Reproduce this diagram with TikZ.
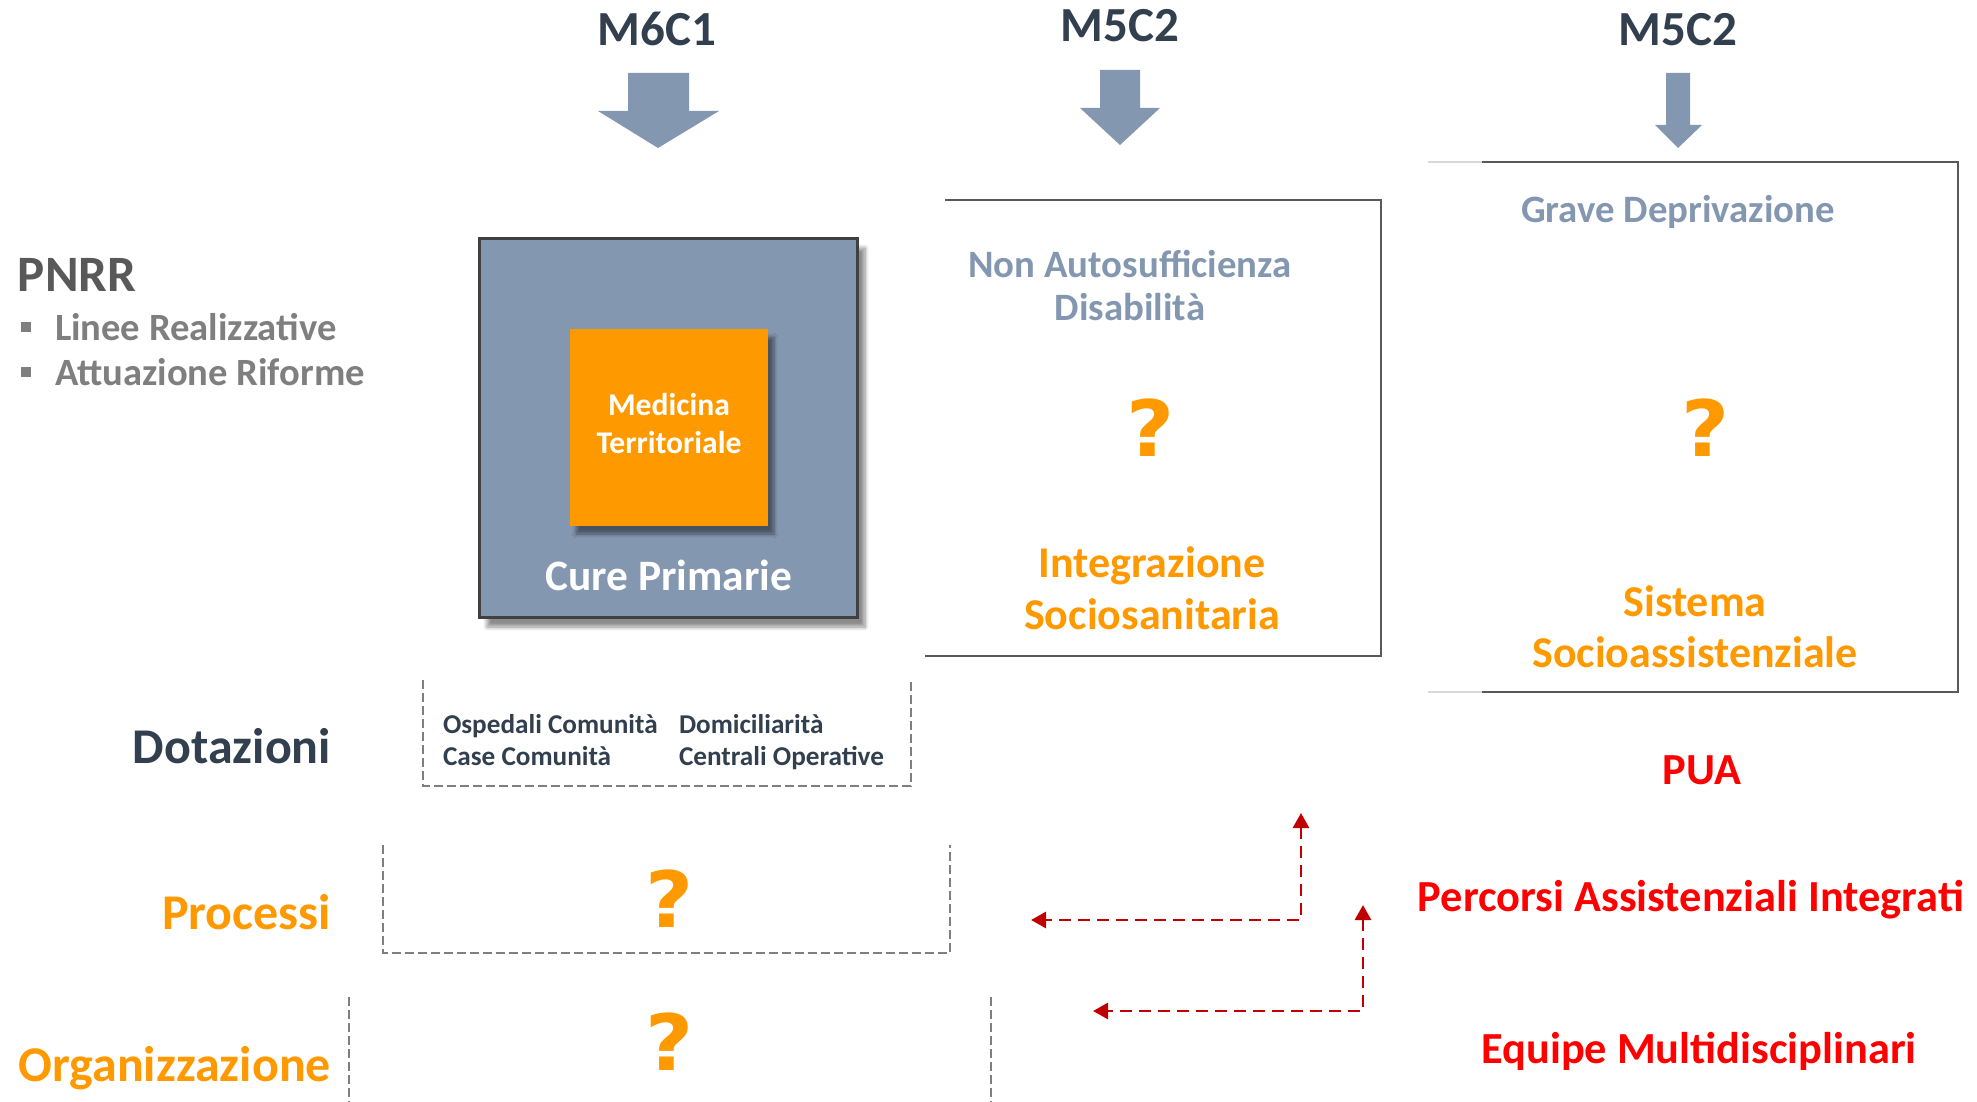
\documentclass[tikz,border=0pt]{standalone}
\usepackage{fontspec}
\setmainfont{Carlito}
\newfontfamily\qfont{DejaVu Sans}
\usetikzlibrary{arrows.meta,shadows.blur}
\definecolor{slate}{HTML}{323F4F}
\definecolor{bluegray}{HTML}{8497B0}
\definecolor{orng}{HTML}{FF9900}
\definecolor{dgray}{HTML}{595959}
\definecolor{mgray}{HTML}{7F7F7F}
\definecolor{lgray}{HTML}{D9D9D9}
\definecolor{rred}{HTML}{FF0000}
\definecolor{dred}{HTML}{C00000}
\definecolor{bord}{HTML}{404040}
\newcommand\myfs[2]{\fontsize{#1}{#2}\selectfont}
\newcommand\qmark{{\qfont\bfseries\scalebox{1.12}[1.05]{?}}}
\begin{document}
\begin{tikzpicture}[x=0.5pt,y=-0.5pt,
  txt/.style={inner sep=0pt,outer sep=0pt,anchor=base},
  ttl/.style={txt,text=slate,font=\bfseries\myfs{24.5}{29}},
  blockarrow/.style={fill=bluegray,draw=none},
  boxline/.style={draw=dgray,line width=1.25pt},
  graydash/.style={draw=mgray,line width=1pt,dash pattern=on 4.5pt off 2pt},
  redarrow/.style={draw=dred,line width=1.4pt,dash pattern=on 6pt off 3.5pt,
     {Triangle[length=7.5pt,width=8pt]}-{Triangle[length=7.5pt,width=8pt]}},
  qm/.style={inner sep=0pt,outer sep=0pt,text=orng,font=\myfs{37}{40}},
  bluetxt/.style={txt,text=bluegray,font=\bfseries\myfs{19.4}{22}},
  orgtxt/.style={txt,text=orng,font=\bfseries\myfs{22}{26}},
  redtxt/.style={txt,text=rred,font=\bfseries\myfs{22.2}{26}},
  rowlbl/.style={inner sep=0pt,outer sep=0pt,anchor=base east,font=\bfseries\myfs{25}{30}},
  small/.style={txt,anchor=base west,text=slate,font=\bfseries\myfs{13.6}{16}},
  bul/.style={txt,anchor=base west,text=mgray,font=\bfseries\myfs{19.3}{22}}
]
\useasboundingbox (0,0) rectangle (1977,1102);

% ---- top titles
\node[ttl] (t1) at (657,46) {M6C1};
\node[ttl] (t2) at (1120,42) {M5C2};
\node[ttl] (t3) at (1678,46) {M5C2};

% ---- block arrows
\fill[blockarrow] (628,73) -- (689,73) -- (689,111) -- (719,111) -- (658,148) -- (598,111) -- (628,111) -- cycle;
\fill[blockarrow] (1100,70) -- (1140,70) -- (1140,108) -- (1160,108) -- (1120,145) -- (1080,108) -- (1100,108) -- cycle;
\fill[blockarrow] (1666,73) -- (1690,73) -- (1690,125) -- (1702,125) -- (1678,148) -- (1655,125) -- (1666,125) -- cycle;

% ---- PNRR
\node[txt,anchor=base west,text=dgray,font=\bfseries\myfs{25.5}{30}] (pnrr) at (18,291) {PNRR};
\fill[mgray] (21,322) rectangle (31,332);
\fill[mgray] (21,367) rectangle (31,377);
\node[bul] (b1) at (55,340) {Linee Realizzative};
\node[bul] (b2) at (55,385) {Attuazione Riforme};

% ---- Cure Primarie box
\path[fill=bluegray,draw=bord,line width=1.5pt,
  blur shadow={shadow xshift=4pt,shadow yshift=-5pt,shadow blur steps=8,shadow opacity=45}]
  (479,238) rectangle (857,617);
\path[fill=orng,
  blur shadow={shadow xshift=3pt,shadow yshift=-4pt,shadow blur steps=6,shadow opacity=45}]
  (570,329) rectangle (768,526);
\node[txt,text=white,font=\bfseries\myfs{15.8}{19}] (med1) at (669,415) {Medicina};
\node[txt,text=white,font=\bfseries\myfs{15.8}{19}] (med2) at (669,453) {Territoriale};
\node[txt,text=white,font=\bfseries\myfs{21.7}{26}] (cure) at (669,590) {Cure Primarie};

% ---- Box 2
\draw[boxline] (945,200) -- (1381,200) -- (1381,656) -- (925,656);
\node[bluetxt] (na1) at (1130,277) {Non Autosufficienza};
\node[bluetxt] (na2) at (1130,320) {Disabilità};
\node[qm] (q1) at (1151,428) {\qmark};
\node[orgtxt] (is1) at (1152,577) {Integrazione};
\node[orgtxt] (is2) at (1152,629) {Sociosanitaria};

% ---- Box 3
\draw[lgray,line width=0.6pt] (1428,162) -- (1482,162);
\draw[lgray,line width=0.6pt] (1428,692) -- (1482,692);
\draw[boxline] (1482,162) -- (1958,162) -- (1958,692) -- (1482,692);
\node[bluetxt] (gd) at (1678,222) {Grave Deprivazione};
\node[qm] (q2) at (1706,428) {\qmark};
\node[orgtxt] (ss1) at (1695,616) {Sistema};
\node[orgtxt] (ss2) at (1695,667) {Socioassistenziale};

% ---- right red labels
\node[redtxt] (pua) at (1702,784) {PUA};
\node[redtxt] (pai) at (1691,911) {Percorsi Assistenziali Integrati};
\node[redtxt] (em) at (1699,1063) {Equipe Multidisciplinari};

% ---- row labels
\node[rowlbl,text=slate] (dot) at (331,763) {Dotazioni};
\node[rowlbl,text=orng] (pro) at (331,929) {Processi};
\node[rowlbl,text=orng] (org) at (331,1081) {Organizzazione};

% ---- Dotazioni dashed box
\draw[graydash] (423,680) -- (423,786) -- (911,786) -- (911,680);
\node[small] (d1) at (443,733) {Ospedali Comunità};
\node[small] (d2) at (443,765) {Case Comunità};
\node[small] (d3) at (679,733) {Domiciliarità};
\node[small] (d4) at (679,765) {Centrali Operative};

% ---- Processi dashed box
\draw[graydash] (383,845) -- (383,953) -- (950,953) -- (950,845);
\node[qm] (q3) at (670,899) {\qmark};

% ---- Organizzazione dashed lines
\draw[graydash] (349,997) -- (349,1102);
\draw[graydash] (991,997) -- (991,1102);
\node[qm] (q4) at (670,1042) {\qmark};

% ---- red arrows
\coordinate (a1top) at (1301,813);
\coordinate (a1left) at (1031,920);
\coordinate (a2top) at (1363,905);
\coordinate (a2left) at (1093,1011);
\draw[redarrow] (a1top) |- (a1left);
\draw[redarrow] (a2top) |- (a2left);
\end{tikzpicture}
\end{document}
